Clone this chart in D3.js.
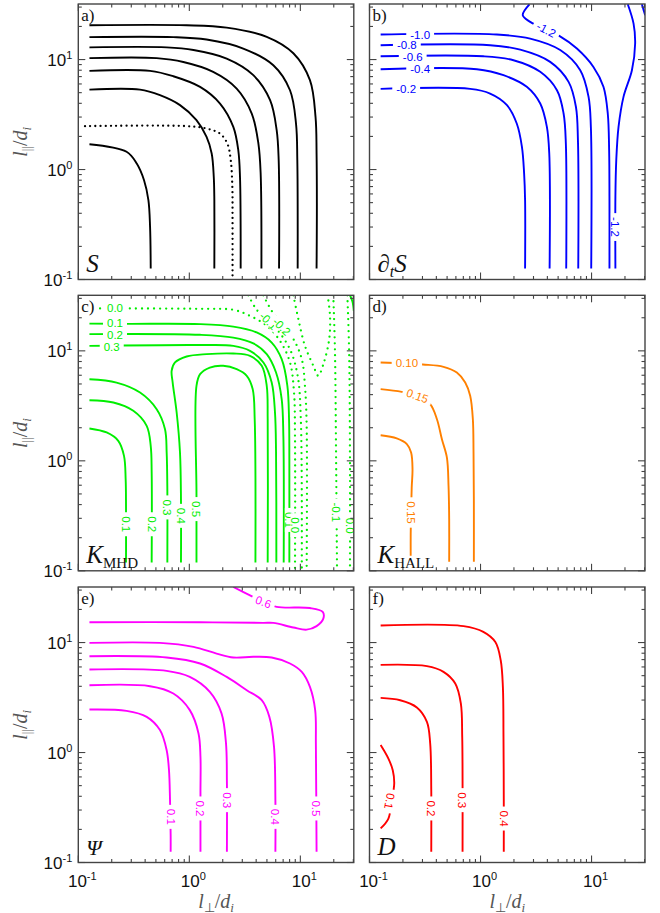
<!DOCTYPE html>
<html><head><meta charset="utf-8">
<script src="https://cdn.jsdelivr.net/npm/d3@7"></script>
<style>body{margin:0;background:#fff}</style>
</head><body>
<svg id="c" width="660" height="913"></svg>
<script>
// ---------- axis data ----------
const xDomain = [0.1, 30.3];
const yDomain = [0.1, 32];
const majorTicks = [0.1, 1, 10];
const minorTicks = [0.2,0.3,0.4,0.5,0.6,0.7,0.8,0.9,2,3,4,5,6,7,8,9,20,30];
const tickExponents = ["-1","0","1"];
const panelLetters = ["a)","b)","c)","d)","e)","f)"];

// ---------- panel a : S ----------
const contoursS = [
 {dotted:false, pts:[[0.126,1.70],[0.272,1.45],[0.336,1.135],[0.391,0.80],[0.428,0.526],[0.443,0.301],[0.449,0.126]]},
 {dotted:false, pts:[[0.126,5.33],[0.36,5.33],[0.544,4.74],[0.824,3.85],[1.16,2.81],[1.43,1.98],[1.59,1.40],[1.66,0.86],[1.68,0.53],[1.68,0.126]]},
 {dotted:false, pts:[[0.126,7.89],[0.443,7.89],[0.718,7.05],[1.25,5.64],[1.89,3.98],[2.49,2.44],[2.76,1.50],[2.86,0.86],[2.90,0.126]]},
 {dotted:false, pts:[[0.126,10.3],[0.508,10.3],[0.883,9.5],[1.64,7.73],[2.67,5.45],[3.65,3.23],[4.19,1.72],[4.39,0.92],[4.46,0.126]]},
 {dotted:false, pts:[[0.126,12.9],[0.625,12.9],[1.09,12.2],[2.17,10.2],[3.77,7.21],[5.34,4.27],[6.12,2.28],[6.38,1.22],[6.43,0.126]]},
 {dotted:false, pts:[[0.126,16.0],[0.718,16.0],[1.43,15.2],[3.06,12.6],[5.71,8.88],[8.07,5.26],[9.14,2.62],[9.39,1.22],[9.46,0.126]]},
 {dotted:false, pts:[[0.126,20.5],[0.946,20.5],[2.17,19.5],[4.98,16.1],[8.65,11.4],[12.2,6.49],[13.7,3.01],[14.0,1.40],[14.0,0.126]]},
 {dotted:true,  pts:[[0.115,2.48],[0.946,2.48],[1.43,2.36],[1.89,2.12],[2.20,1.72],[2.36,1.22],[2.44,0.695],[2.45,0.372],[2.45,0.1]]}
];
const labelsS = [];

// ---------- panel b : dS/dt ----------
const contoursDtS = [
 {dotted:false, pts:[[0.126,5.41],[0.807,5.41],[1.22,4.91],[1.73,3.85],[2.12,2.62],[2.36,1.61],[2.47,0.92],[2.52,0.526],[2.52,0.126]]},
 {dotted:false, pts:[[0.126,8.17],[0.927,8.17],[1.61,7.21],[2.61,5.65],[3.45,3.98],[3.96,2.44],[4.16,1.40],[4.19,0.126]]},
 {dotted:false, pts:[[0.126,10.7],[1.06,10.7],[1.98,9.86],[3.45,7.73],[4.88,5.26],[5.6,3.23],[5.87,1.72],[5.91,0.126]]},
 {dotted:false, pts:[[0.126,13.5],[1.22,13.5],[2.28,12.3],[4.24,9.53],[6.21,6.27],[7.23,3.72],[7.54,1.85],[7.59,0.126]]},
 {dotted:false, pts:[[0.126,16.9],[1.40,16.9],[2.80,15.5],[5.22,12.2],[7.91,8.0],[9.4,4.58],[9.86,2.44],[9.93,0.126]]},
 {dotted:false, pts:[[2.76,31.8],[2.40,25.3],[2.80,22.0],[5.04,16.6],[7.38,12.6],[10.4,8.57],[12.8,5.65],[14.0,3.23],[14.4,1.50],[14.5,0.526],[14.5,0.126]]},
 {dotted:false, pts:[[21.2,31.8],[23.9,21.2],[24.7,14.0],[23.1,8.0],[19.4,4.58],[17.5,2.44],[16.7,1.22],[16.4,0.565],[16.4,0.126]]},
 {dotted:false, pts:[[28.4,31.8],[29.5,28.0],[30.4,25.3]]}
];
const labelsDtS = [
 {t:"-1.0", x:0.286, y:16.9, r:0},
 {t:"-0.8", x:0.217, y:13.6, r:0},
 {t:"-0.6", x:0.245, y:10.6, r:0},
 {t:"-0.4", x:0.286, y:8.17, r:0},
 {t:"-0.2", x:0.214, y:5.41, r:0},
 {t:"-1.2", x:3.91, y:18.7, r:28},
 {t:"-1.2", x:16.4, y:0.30, r:90}
];

// ---------- panel c : K_MHD ----------
const contoursKMHD = [
 {dotted:false, pts:[[0.126,17.7],[0.272,17.6],[1.25,17.5],[2.49,16.6],[4.04,14.7],[5.52,11.9],[6.79,8.4],[7.64,4.81],[7.91,2.39],[7.96,1.035],[7.96,0.119]]},
 {dotted:false, pts:[[0.126,14.2],[1.25,14.0],[2.49,13.2],[3.77,11.7],[4.98,9.33],[6.04,6.35],[6.79,3.64],[7.03,1.69],[7.08,0.119]]},
 {dotted:false, pts:[[0.126,11.1],[1.25,11.3],[2.49,11.1],[3.52,10.0],[4.65,7.84],[5.52,5.15],[5.91,2.75],[6.04,1.19],[6.08,0.119]]},
 {dotted:false, pts:[[0.841,0.119],[0.841,0.449],[0.824,1.19],[0.769,2.75],[0.708,5.15],[0.693,6.58],[0.743,7.84],[0.946,8.88],[1.43,9.33],[2.49,9.46],[3.52,9.0],[4.49,7.31],[4.98,4.81],[5.08,2.39],[5.08,0.119]]},
 {dotted:false, pts:[[1.16,0.119],[1.16,0.498],[1.16,4.81],[1.25,6.14],[1.53,7.05],[2.02,7.31],[2.67,6.81],[3.29,5.93],[3.72,4.49],[3.88,2.39],[3.94,0.119]]},
 {dotted:false, pts:[[0.126,5.52],[0.221,5.15],[0.36,4.18],[0.508,2.95],[0.604,1.94],[0.625,1.19],[0.634,0.533],[0.634,0.119]]},
 {dotted:false, pts:[[0.126,3.56],[0.207,3.39],[0.313,2.85],[0.413,2.08],[0.449,1.37],[0.458,0.783],[0.458,0.119]]},
 {dotted:false, pts:[[0.126,1.97],[0.18,1.81],[0.229,1.52],[0.258,1.11],[0.267,0.681],[0.269,0.377],[0.269,0.119]]},
 {dotted:false, pts:[[28.0,32],[29.5,28],[30.3,23.1]]},
 {dotted:true, pts:[[0.157,24.3],[1.25,24.1],[2.49,23.6],[3.52,20.8],[4.98,16.9],[6.56,12.3],[8.07,7.84],[8.77,4.18],[8.95,1.69],[8.95,0.1]]},
 {dotted:true, pts:[[3.4,32],[3.91,24.8],[4.64,20.1],[6.12,15.7],[8.07,10.3],[9.46,5.93],[10.1,2.39],[10.3,0.1]]},
 {dotted:true, pts:[[4.64,32],[5.52,23.1],[6.79,17.5],[8.65,12.8],[10.3,8.4],[11.0,4.81],[11.4,2.08],[11.4,0.1]]},
 {dotted:true, pts:[[8.65,32],[9.6,19.4],[11.0,11.1],[13.1,7.31],[14.5,5.93],[16.3,7.84],[18.2,12.8],[18.5,20.8],[17.6,32]]},
 {dotted:true, pts:[[19.8,32],[20.5,10],[21.0,1],[21.4,0.1]]},
 {dotted:true, pts:[[26.5,32],[27.5,10],[28.0,1],[28.0,0.1]]}
];
const labelsKMHD = [
 {t:"0.0", x:0.214, y:24.5, r:0},
 {t:"0.1", x:0.214, y:17.9, r:0},
 {t:"0.2", x:0.214, y:14.1, r:0},
 {t:"0.3", x:0.20, y:10.9, r:0},
 {t:"0.1", x:0.269, y:0.265, r:90},
 {t:"0.2", x:0.458, y:0.265, r:90},
 {t:"0.3", x:0.634, y:0.377, r:90},
 {t:"0.4", x:0.841, y:0.316, r:90},
 {t:"0.5", x:1.16, y:0.364, r:90},
 {t:"0.1", x:7.96, y:0.29, r:90},
 {t:"0.0", x:8.95, y:0.26, r:90},
 {t:"-0.1", x:5.15, y:18.7, r:45},
 {t:"-0.2", x:6.79, y:16.6, r:45},
 {t:"-0.1", x:21.2, y:0.34, r:90},
 {t:"0.0", x:28.0, y:0.257, r:90}
];

// ---------- panel d : K_HALL ----------
const contoursKHALL = [
 {dotted:false, pts:[[0.126,7.83],[0.302,7.51],[0.464,7.16],[0.612,6.35],[0.728,5.15],[0.807,3.9],[0.853,2.39],[0.865,1.19],[0.871,0.418],[0.871,0.121]]},
 {dotted:false, pts:[[0.126,4.49],[0.195,4.24],[0.27,3.9],[0.352,3.27],[0.405,2.39],[0.449,1.57],[0.498,1.07],[0.515,0.593],[0.522,0.295],[0.522,0.121]]},
 {dotted:false, pts:[[0.126,1.71],[0.176,1.6],[0.217,1.42],[0.237,1.19],[0.244,0.84],[0.24,0.573],[0.237,0.339],[0.235,0.215],[0.235,0.137]]}
];
const labelsKHALL = [
 {t:"0.10", x:0.217, y:7.73, r:0},
 {t:"0.15", x:0.27, y:3.9, r:20},
 {t:"0.15", x:0.237, y:0.339, r:90}
];

// ---------- panel e : Psi ----------
const contoursPsi = [
 {dotted:false, pts:[[0.126,2.46],[0.272,2.39],[0.413,2.11],[0.544,1.6],[0.625,1.05],[0.656,0.69],[0.67,0.369],[0.679,0.177],[0.679,0.125]]},
 {dotted:false, pts:[[0.126,4.09],[0.443,4.01],[0.718,3.44],[1.01,2.43],[1.21,1.49],[1.26,0.914],[1.26,0.439],[1.26,0.125]]},
 {dotted:false, pts:[[0.126,5.69],[0.625,5.53],[1.01,4.87],[1.53,3.56],[1.95,2.27],[2.14,1.21],[2.18,0.541],[2.18,0.125]]},
 {dotted:false, pts:[[0.126,7.51],[0.625,7.31],[1.25,6.45],[2.17,4.87],[3.29,3.69],[4.49,2.99],[5.26,2.11],[5.79,1.13],[5.96,0.369],[5.96,0.125]]},
 {dotted:false, pts:[[0.126,9.93],[0.544,9.93],[1.09,9.14],[1.76,7.94],[2.49,7.31],[3.77,7.42],[5.52,7.31],[8.07,6.45],[10.3,5.41],[12.2,3.95],[13.6,2.43],[13.8,1.21],[13.9,0.439],[14.0,0.125]]},
 {dotted:false, pts:[[2.49,32],[3.52,26.9],[4.64,23.4],[6.12,21.1],[12.2,20.6],[15.9,19.0],[16.1,16.5],[14.0,14.1],[11.4,13.1],[8.65,13.7],[5.71,15.1],[4.64,15.1],[1.25,15.3],[0.126,15.3]]}
];
const labelsPsi = [
 {t:"0.6", x:4.64, y:23.4, r:20},
 {t:"0.1", x:0.679, y:0.26, r:90},
 {t:"0.2", x:1.26, y:0.31, r:90},
 {t:"0.3", x:2.18, y:0.369, r:90},
 {t:"0.4", x:5.96, y:0.26, r:90},
 {t:"0.5", x:14.0, y:0.31, r:90}
];

// ---------- panel f : D ----------
const contoursD = [
 {dotted:false, pts:[[0.126,14.3],[0.703,14.1],[1.06,12.5],[1.36,10.1],[1.52,6.9],[1.59,3.95],[1.61,1.39],[1.62,0.369],[1.62,0.125]]},
 {dotted:false, pts:[[0.126,6.27],[0.329,6.1],[0.464,5.41],[0.592,4.24],[0.665,2.79],[0.684,1.39],[0.689,0.541],[0.689,0.125]]},
 {dotted:false, pts:[[0.126,3.14],[0.189,2.99],[0.267,2.57],[0.329,1.9],[0.352,1.21],[0.36,0.455],[0.36,0.125]]},
 {dotted:false, pts:[[0.126,1.17],[0.148,0.881],[0.162,0.69],[0.167,0.522],[0.158,0.36],[0.148,0.251],[0.126,0.204]]}
];
const labelsD = [
 {t:"0.1", x:0.152, y:0.361, r:100},
 {t:"0.2", x:0.36, y:0.31, r:90},
 {t:"0.3", x:0.689, y:0.369, r:90},
 {t:"0.4", x:1.62, y:0.251, r:90}
];

// ---------- layout ----------
const colX = [78.3, 369.5];
const rowY = [4, 295.3, 587];
const PW = 275.5, PH = 275.5;
const svg = d3.select('#c');
const serif = "'Liberation Serif','Times New Roman',serif";
const sans = "'Liberation Sans',Arial,Helvetica,sans-serif";

const panels = [
 {col:0,row:0,color:'#000000',contours:contoursS,labels:labelsS,dash:'0,5.2',name:'S'},
 {col:1,row:0,color:'#0000ff',contours:contoursDtS,labels:labelsDtS,dash:'0,5.5',name:'dtS'},
 {col:0,row:1,color:'#00ee00',contours:contoursKMHD,labels:labelsKMHD,dash:'0,6',name:'KMHD'},
 {col:1,row:1,color:'#ff8000',contours:contoursKHALL,labels:labelsKHALL,dash:'0,6',name:'KHALL'},
 {col:0,row:2,color:'#ff00ff',contours:contoursPsi,labels:labelsPsi,dash:'0,6',name:'Psi'},
 {col:1,row:2,color:'#ff0000',contours:contoursD,labels:labelsD,dash:'0,6',name:'D'}
];

panels.forEach((p,i)=>{
  const x0 = colX[p.col], y0 = rowY[p.row];
  const xs = d3.scaleLog().domain(xDomain).range([x0, x0+PW]);
  const ys = d3.scaleLog().domain(yDomain).range([y0+PH, y0]);
  const g = svg.append('g');
  const cid = 'clip'+i;
  svg.append('clipPath').attr('id',cid).append('rect').attr('x',x0).attr('y',y0).attr('width',PW).attr('height',PH);
  const cg = g.append('g').attr('clip-path',`url(#${cid})`);
  const line = d3.line().x(d=>xs(d[0])).y(d=>ys(d[1])).curve(d3.curveCatmullRom.alpha(0.5));
  cg.selectAll('path.ct').data(p.contours).join('path')
    .attr('d',d=>line(d.pts)).attr('fill','none')
    .attr('stroke',p.color).attr('stroke-width',d=>d.dotted?2.3:1.9)
    .attr('stroke-dasharray',d=>d.dotted?p.dash:null)
    .attr('stroke-linecap',d=>d.dotted?'round':'butt')
    .attr('stroke-linejoin','round');
  // labels with a white gap box cut into the line
  const lg = cg.selectAll('g.lab').data(p.labels).join('g')
    .attr('transform',d=>`translate(${xs(d.x)},${ys(d.y)}) rotate(${d.r})`);
  lg.append('rect').attr('fill','#fff');
  const txt = lg.append('text').attr('text-anchor','middle').attr('dy','0.36em')
    .attr('font-family',sans).attr('font-size',11.5).attr('fill',p.color).text(d=>d.t);
  txt.each(function(){
    const w = this.getComputedTextLength();
    d3.select(this.previousSibling).attr('x',-w/2-4).attr('y',-4.5).attr('width',w+8).attr('height',9);
  });

  // frame
  g.append('rect').attr('x',x0).attr('y',y0).attr('width',PW).attr('height',PH)
    .attr('fill','none').attr('stroke','#444').attr('stroke-width',1.4);
  // ticks
  const tk = g.append('g').attr('stroke','#444').attr('stroke-width',1.1);
  const addX = (v,len)=>{
    const x = xs(v);
    tk.append('line').attr('x1',x).attr('x2',x).attr('y1',y0+PH).attr('y2',y0+PH-len);
    tk.append('line').attr('x1',x).attr('x2',x).attr('y1',y0).attr('y2',y0+len);
  };
  const addY = (v,len)=>{
    const y = ys(v);
    tk.append('line').attr('x1',x0).attr('x2',x0+len).attr('y1',y).attr('y2',y);
    tk.append('line').attr('x1',x0+PW).attr('x2',x0+PW-len).attr('y1',y).attr('y2',y);
  };
  majorTicks.forEach(v=>{addX(v,7); addY(v,7);});
  minorTicks.forEach(v=>{ if(v<=xDomain[1]) addX(v,3.5); if(v<=yDomain[1]) addY(v,3.5);});

  // panel letter
  g.append('text').attr('x',x0+3).attr('y',y0+17).attr('font-family',serif)
    .attr('font-size',17).attr('fill','#111').text(panelLetters[i]);

  // panel name
  const nm = g.append('text').attr('x',x0+8).attr('y',y0+PH-8)
    .attr('font-family',serif).attr('font-size',25).attr('fill','#111');
  if(p.name==='S'){ nm.append('tspan').attr('font-style','italic').text('S'); }
  else if(p.name==='dtS'){
    nm.append('tspan').text('\u2202');
    nm.append('tspan').attr('font-style','italic').attr('font-size',16).attr('dy',5).text('t');
    nm.append('tspan').attr('font-style','italic').attr('dy',-5).text('S');
  } else if(p.name==='KMHD'||p.name==='KHALL'){
    nm.append('tspan').attr('font-style','italic').text('K');
    nm.append('tspan').attr('font-size',15).attr('dy',5).text(p.name==='KMHD'?'MHD':'HALL');
  } else if(p.name==='Psi'){ nm.attr('font-size',22).append('tspan').attr('font-style','italic').text('\u03A8'); }
  else { nm.append('tspan').attr('font-style','italic').text('D'); }

  // y tick labels & title (left column)
  if(p.col===0){
    majorTicks.forEach((v,k)=>{
      const t = svg.append('text').attr('x',x0-6).attr('y',ys(v)+6).attr('text-anchor','end')
        .attr('font-family',sans).attr('font-size',17).attr('fill','#111');
      t.append('tspan').text('10');
      t.append('tspan').attr('font-size',11).attr('dy',-7).text(tickExponents[k]);
    });
    const yt = svg.append('text').attr('transform',`translate(27,${y0+PH/2}) rotate(-90)`)
      .attr('text-anchor','middle').attr('font-family',serif).attr('font-size',20).attr('fill','#555');
    yt.append('tspan').attr('font-style','italic').text('l');
    yt.append('tspan').attr('font-size',13).attr('dy',4).text('||');
    yt.append('tspan').attr('dy',-4).text('/');
    yt.append('tspan').attr('font-style','italic').text('d');
    yt.append('tspan').attr('font-style','italic').attr('font-size',13).attr('dy',4).text('i');
  }
  // x tick labels & title (bottom row)
  if(p.row===2){
    majorTicks.forEach((v,k)=>{
      const t = svg.append('text').attr('x',xs(v)+4).attr('y',y0+PH+24).attr('text-anchor','middle')
        .attr('font-family',sans).attr('font-size',17).attr('fill','#111');
      t.append('tspan').text('10');
      t.append('tspan').attr('font-size',11).attr('dy',-7).text(tickExponents[k]);
    });
    const xt = svg.append('text').attr('x',x0+PW/2).attr('y',y0+PH+45)
      .attr('text-anchor','middle').attr('font-family',serif).attr('font-size',20).attr('fill','#555');
    xt.append('tspan').attr('font-style','italic').text('l');
    xt.append('tspan').attr('font-size',13).attr('dy',4).text('\u22A5');
    xt.append('tspan').attr('dy',-4).text('/');
    xt.append('tspan').attr('font-style','italic').text('d');
    xt.append('tspan').attr('font-style','italic').attr('font-size',13).attr('dy',4).text('i');
  }
});
</script>
</body></html>
